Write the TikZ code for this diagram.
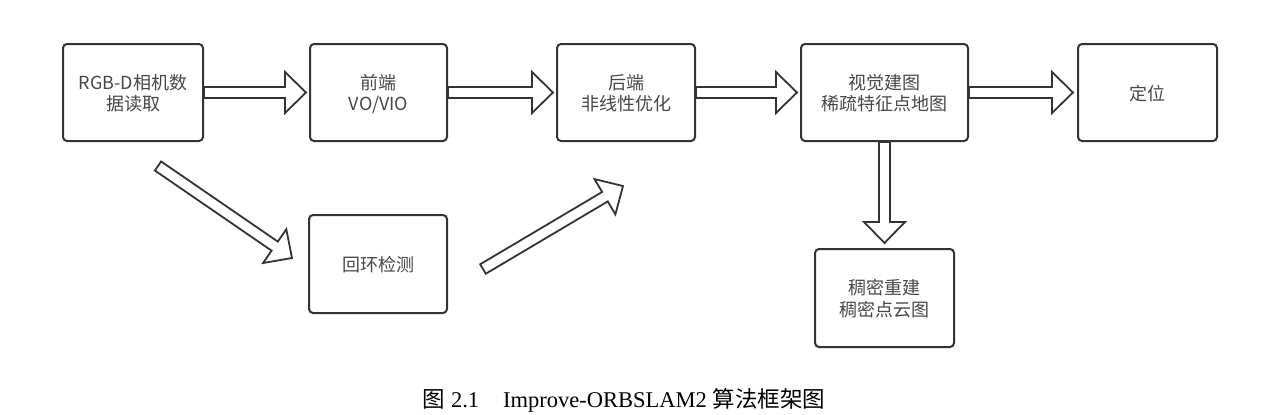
\documentclass[tikz,border=0pt]{standalone}
\usepackage{fontspec}
\setmainfont{Liberation Serif}
\newfontfamily\cjk{Noto Sans CJK SC}
\usetikzlibrary{calc}
\newcommand\blockarrow[2]{%
  \coordinate (hb) at ($(#2)!21pt!(#1)$);
  \draw[barrow] ($(#1)!5.5pt!90:(#2)$) -- ($(hb)!5.5pt!90:(#2)$) -- ($(hb)!20.5pt!90:(#2)$) -- (#2)
    -- ($(hb)!20.5pt!-90:(#2)$) -- ($(hb)!5.5pt!-90:(#2)$) -- ($(#1)!5.5pt!-90:(#2)$) -- cycle;}
\newcommand\bt[1]{\raisebox{-3pt}[\height][\depth]{\begin{tabular}{@{}c@{}}#1\end{tabular}}}
\begin{document}
\begin{tikzpicture}[x=1pt,y=-1pt,
  box/.style={draw=black!80, line width=2pt, rounded corners=4pt, fill=white,
    font=\cjk\fontsize{18}{20.5}\selectfont, text=black!72, inner sep=0pt,
    minimum height=97pt},
  barrow/.style={draw=black!80, line width=1.8pt, fill=white, line join=miter}]
\useasboundingbox (0,0) rectangle (1283,415);
\node[box, minimum width=140pt] (b1) at (133,92.5) {\bt{RGB-D相机数\\据读取}};
\node[box, minimum width=137pt] (b2) at (378.5,92.5) {\bt{前端\\VO/VIO}};
\node[box, minimum width=138pt] (b3) at (626,92.5) {\bt{后端\\非线性优化}};
\node[box, minimum width=167pt] (b4) at (884.5,92.5) {\bt{视觉建图\\稀疏特征点地图}};
\node[box, minimum width=139pt] (b5) at (1147.5,92.5) {\bt{定位}};
\node[box, minimum width=138pt, minimum height=98pt] (lp) at (378,264) {\bt{回环检测}};
\node[box, minimum width=139pt, minimum height=98pt] (b6) at (884.5,298) {\bt{稠密重建\\稠密点云图}};
\coordinate (t12) at ($(b2.west)+(-3,0)$);
\coordinate (t23) at ($(b3.west)+(-3,0)$);
\coordinate (t34) at ($(b4.west)+(-3,0)$);
\coordinate (t45) at ($(b5.west)+(-4,0)$);
\coordinate (t46) at ($(b6.north)+(0,-5)$);
\coordinate (d1s) at (158,166);
\coordinate (d1e) at (292,258);
\coordinate (d2s) at (483,269);
\coordinate (d2e) at (623,186);
\blockarrow{b1.east}{t12}
\blockarrow{b2.east}{t23}
\blockarrow{b3.east}{t34}
\blockarrow{b4.east}{t45}
\blockarrow{b4.south}{t46}
\blockarrow{d1s}{d1e}
\blockarrow{d2s}{d2e}
\node[anchor=base, font=\fontsize{22.5}{26}\selectfont] (cap) at (624,407)
  {{\cjk 图} 2.1\hspace{24pt}Improve-ORBSLAM2 {\cjk 算法框架图}};
\end{tikzpicture}
\end{document}
